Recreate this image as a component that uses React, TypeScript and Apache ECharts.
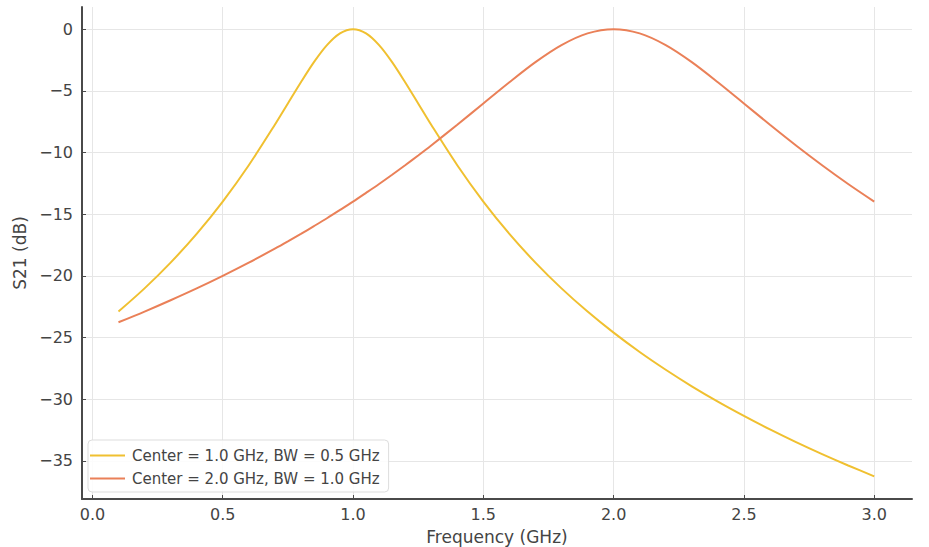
import React, { useEffect, useRef } from "react";
import * as echarts from "echarts";

const FREQ = [0.1, 0.2, 0.3, 0.4, 0.5, 0.6, 0.7, 0.75, 0.8, 0.85, 0.9, 0.95, 1.0, 1.05, 1.1, 1.15, 1.2, 1.25, 1.3, 1.4, 1.5, 1.6, 1.7, 1.8, 1.9, 2.0, 2.1, 2.2, 2.3, 2.4, 2.5, 2.6, 2.7, 2.8, 2.9, 3.0];
const S21_NARROW = [-22.9, -21.02, -18.93, -16.6, -13.98, -11.03, -7.75, -6.02, -4.3, -2.67, -1.29, -0.34, 0, -0.34, -1.29, -2.67, -4.3, -6.02, -7.75, -11.03, -13.98, -16.6, -18.93, -21.02, -22.9, -24.61, -26.18, -27.62, -28.96, -30.2, -31.36, -32.46, -33.49, -34.46, -35.38, -36.26];
const S21_WIDE = [-23.77, -22.9, -21.98, -21.02, -20.0, -18.93, -17.8, -17.21, -16.6, -15.97, -15.33, -14.66, -13.98, -13.27, -12.55, -11.8, -11.03, -10.24, -9.43, -7.75, -6.02, -4.3, -2.67, -1.29, -0.34, 0, -0.34, -1.29, -2.67, -4.3, -6.02, -7.75, -9.43, -11.03, -12.55, -13.98];
const SERIES_NAMES = ["Center = 1.0 GHz, BW = 0.5 GHz", "Center = 2.0 GHz, BW = 1.0 GHz"];
const X_TICKS = [0, 0.5, 1.0, 1.5, 2.0, 2.5, 3.0];
const Y_TICKS = [0, -5, -10, -15, -20, -25, -30, -35];

const FONT = "DejaVu Sans";

export default function App() {
  const ref = useRef<HTMLDivElement>(null);
  useEffect(() => {
    if (!ref.current) return;
    const chart = echarts.init(ref.current, null, { renderer: "svg" });
    const gridColor = "#e6e6e6";
    const axisColor = "#4a4a4a";
    const textColor = "#444444";
    chart.setOption({
      animation: false,
      backgroundColor: "#ffffff",
      grid: { left: 82, right: 17, top: 7, bottom: 48, containLabel: false, outerBoundsMode: "none" },
      legend: {
        orient: "vertical",
        left: 88,
        top: 440,
        backgroundColor: "rgba(255,255,255,0.85)",
        borderColor: "#dddddd",
        borderWidth: 1,
        borderRadius: 4,
        padding: [8, 9, 6, 2],
        itemGap: 8,
        itemWidth: 35,
        itemHeight: 2,
        icon: "rect",
        textStyle: { fontFamily: FONT, fontSize: 15, color: textColor, padding: [0, 0, 0, 2] },
        data: SERIES_NAMES,
      },
      xAxis: {
        type: "value",
        min: -0.04,
        max: 3.145,
        name: "Frequency (GHz)",
        nameLocation: "middle",
        nameGap: 29,
        nameTextStyle: { fontFamily: FONT, fontSize: 17, color: textColor },
        axisLine: { show: true, onZero: false, lineStyle: { color: axisColor, width: 2 } },
        axisTick: { show: true, inside: true, length: 4, customValues: X_TICKS, lineStyle: { color: axisColor } },
        axisLabel: {
          customValues: X_TICKS,
          fontFamily: FONT,
          fontSize: 16,
          color: textColor,
          margin: 7,
          formatter: (v: number) => v.toFixed(1),
        },
        splitLine: { show: true, lineStyle: { color: gridColor, width: 1 } },
      },
      yAxis: {
        type: "value",
        min: -38.1,
        max: 1.8,
        name: "S21 (dB)",
        nameLocation: "middle",
        nameGap: 51,
        nameRotate: 90,
        nameTextStyle: { fontFamily: FONT, fontSize: 17, color: textColor },
        axisLine: { show: true, onZero: false, lineStyle: { color: axisColor, width: 2 } },
        axisTick: { show: true, inside: true, length: 4, customValues: Y_TICKS, lineStyle: { color: axisColor } },
        axisLabel: {
          customValues: Y_TICKS,
          fontFamily: FONT,
          fontSize: 16,
          color: textColor,
          margin: 9,
          formatter: (v: number) => (v < 0 ? "\u2212" + Math.abs(v) : String(v)),
        },
        splitLine: { show: true, lineStyle: { color: gridColor, width: 1 } },
      },
      series: [
        {
          name: SERIES_NAMES[0],
          type: "line",
          data: FREQ.map((f, i) => [f, S21_NARROW[i]]),
          showSymbol: false,
          symbol: "none",
          smooth: 0.3,
          lineStyle: { color: "#f0c030", width: 2 },
          itemStyle: { color: "#f0c030" },
        },
        {
          name: SERIES_NAMES[1],
          type: "line",
          data: FREQ.map((f, i) => [f, S21_WIDE[i]]),
          showSymbol: false,
          symbol: "none",
          smooth: 0.3,
          lineStyle: { color: "#ea8058", width: 2 },
          itemStyle: { color: "#ea8058" },
        },
      ],
    });
    return () => chart.dispose();
  }, []);
  return (
    <div
      ref={ref}
      style={{ position: "absolute", left: 0, top: 0, width: 929, height: 547 }}
    />
  );
}
